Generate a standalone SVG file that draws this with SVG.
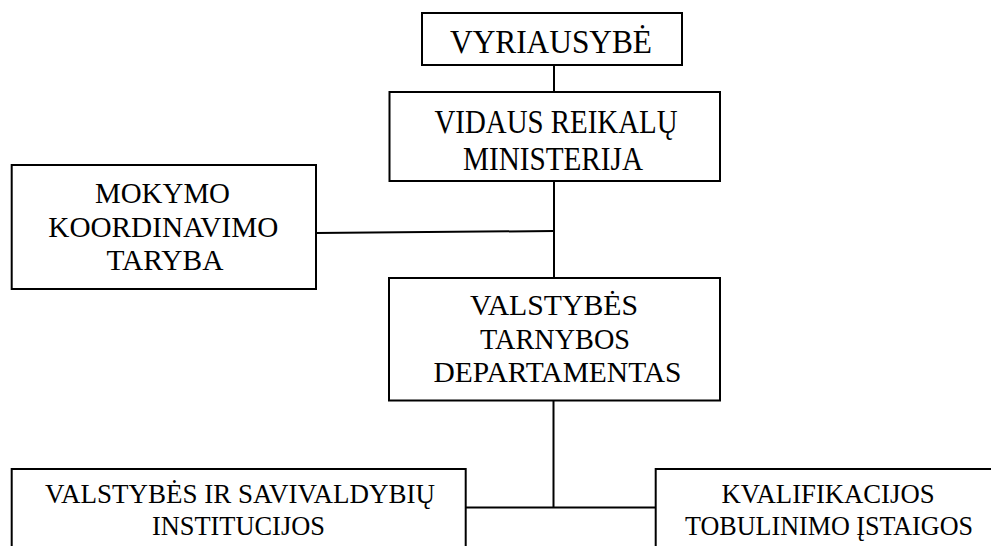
<svg xmlns="http://www.w3.org/2000/svg" width="991" height="546" viewBox="0 0 991 546">
  <style>
    .box { fill: #ffffff; stroke: #000000; stroke-width: 2; }
    .link { fill: none; stroke: #000000; stroke-width: 2; }
    .big { font-size: 33px; }
    .mid { font-size: 30px; }
    .sml { font-size: 28px; }
  </style>
  <rect width="991" height="546" fill="#ffffff"/>

  <g id="connectors">
    <line class="link" x1="554" y1="65" x2="554" y2="92"/>
    <line class="link" x1="554" y1="181" x2="554" y2="278"/>
    <line class="link" x1="316" y1="233" x2="554" y2="231"/>
    <line class="link" x1="553.5" y1="400.5" x2="553.5" y2="507.5"/>
    <line class="link" x1="465.5" y1="507.5" x2="655.5" y2="507.5"/>
  </g>

  <g font-family="'Liberation Serif', 'Times New Roman', serif" text-anchor="middle" fill="#000000">
    <g id="vyriausybe">
      <rect class="box" x="422" y="13" width="260" height="52"/>
      <text class="big" x="551" y="53" textLength="202" lengthAdjust="spacingAndGlyphs">VYRIAUSYBĖ</text>
    </g>

    <g id="vidaus-reikalu-ministerija">
      <rect class="box" x="389.5" y="92" width="330.5" height="89"/>
      <text class="big" x="556" y="133" textLength="243" lengthAdjust="spacingAndGlyphs">VIDAUS REIKALŲ</text>
      <text class="big" x="553" y="170" textLength="180" lengthAdjust="spacingAndGlyphs">MINISTERIJA</text>
    </g>

    <g id="mokymo-koordinavimo-taryba">
      <rect class="box" x="11.7" y="165" width="304.3" height="124"/>
      <text class="mid" x="162.5" y="203" textLength="135" lengthAdjust="spacingAndGlyphs">MOKYMO</text>
      <text class="mid" x="163.3" y="237" textLength="230" lengthAdjust="spacingAndGlyphs">KOORDINAVIMO</text>
      <text class="mid" x="165" y="270" textLength="117" lengthAdjust="spacingAndGlyphs">TARYBA</text>
    </g>

    <g id="valstybes-tarnybos-departamentas">
      <rect class="box" x="389" y="278" width="331" height="122.5"/>
      <text class="mid" x="554" y="315" textLength="168" lengthAdjust="spacingAndGlyphs">VALSTYBĖS</text>
      <text class="mid" x="555" y="349" textLength="150" lengthAdjust="spacingAndGlyphs">TARNYBOS</text>
      <text class="mid" x="557.5" y="382" textLength="248" lengthAdjust="spacingAndGlyphs">DEPARTAMENTAS</text>
    </g>

    <g id="valstybes-ir-savivaldybiu-institucijos">
      <rect class="box" x="11.7" y="469" width="454" height="100"/>
      <text class="sml" x="240" y="503" textLength="390" lengthAdjust="spacingAndGlyphs">VALSTYBĖS IR SAVIVALDYBIŲ</text>
      <text class="sml" x="238.4" y="534.5" textLength="173" lengthAdjust="spacingAndGlyphs">INSTITUCIJOS</text>
    </g>

    <g id="kvalifikacijos-tobulinimo-istaigos">
      <rect class="box" x="655.7" y="469" width="346" height="100"/>
      <text class="sml" x="828" y="503" textLength="213" lengthAdjust="spacingAndGlyphs">KVALIFIKACIJOS</text>
      <text class="sml" x="829" y="534.5" textLength="288" lengthAdjust="spacingAndGlyphs">TOBULINIMO ĮSTAIGOS</text>
    </g>
  </g>
</svg>
